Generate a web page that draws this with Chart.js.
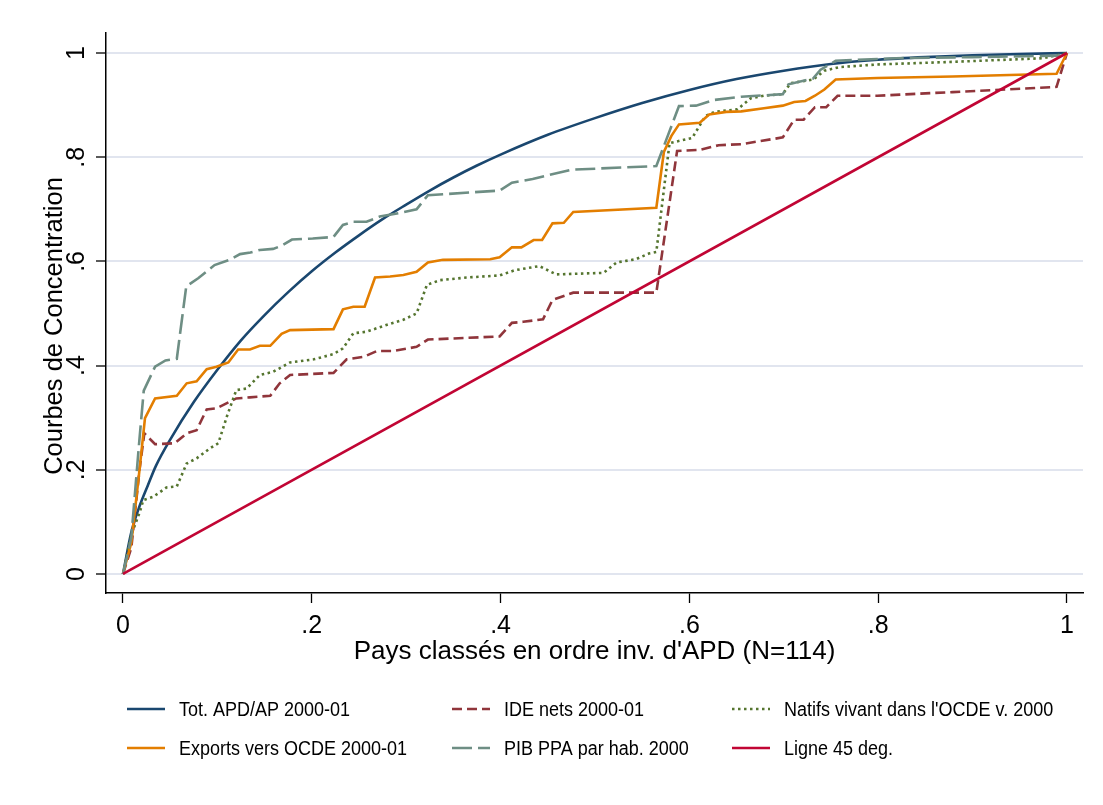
<!DOCTYPE html>
<html>
<head>
<meta charset="utf-8">
<script src="https://cdn.jsdelivr.net/npm/chart.js@4"></script>
<style>
  body { margin: 0; background: #fff; }
  canvas { display: block; }
</style>
</head>
<body>
<canvas id="conc_chart" width="1103" height="805"></canvas>
<script>
// concentration curves, countries ranked by inverse ODA (N=114)

const xTicks = [0, 0.2, 0.4, 0.6, 0.8, 1];
const yTicks = [0, 0.2, 0.4, 0.6, 0.8, 1];
const xTitle = "Pays classés en ordre inv. d'APD (N=114)";
const yTitle = 'Courbes de Concentration';

const seriesLabels = [
    'Tot. APD/AP 2000-01',
    'IDE nets 2000-01',
    "Natifs vivant dans l'OCDE v. 2000",
    'Exports vers OCDE 2000-01',
    'PIB PPA par hab. 2000',
    'Ligne 45 deg.'
];

// [share of countries, cumulative share]
const apdTot = [[0, 0], [0.0088, 0.08], [0.0175, 0.13], [0.0263, 0.17], [0.035, 0.208], [0.05, 0.258],
    [0.075, 0.33], [0.1, 0.392], [0.125, 0.4485], [0.15, 0.497], [0.175, 0.541], [0.2, 0.581],
    [0.225, 0.617], [0.25, 0.65], [0.275, 0.681], [0.3, 0.709], [0.325, 0.736], [0.35, 0.761],
    [0.375, 0.784], [0.4, 0.805], [0.45, 0.843], [0.5, 0.875], [0.55, 0.904], [0.6, 0.929],
    [0.65, 0.95], [0.7, 0.966], [0.75, 0.979], [0.8, 0.987], [0.85, 0.992], [0.9, 0.9955],
    [0.95, 0.998], [1, 1]];

const ideNets = [[0, 0], [0.0088, 0.05], [0.0175, 0.2], [0.0226, 0.27], [0.034, 0.249], [0.055, 0.251],
    [0.0675, 0.27], [0.078, 0.276], [0.0887, 0.316], [0.099, 0.318], [0.12, 0.337], [0.1345, 0.339],
    [0.156, 0.342], [0.166, 0.366], [0.177, 0.382], [0.223, 0.386], [0.237, 0.412], [0.255, 0.417],
    [0.269, 0.428], [0.286, 0.428], [0.311, 0.436], [0.323, 0.45], [0.399, 0.456], [0.412, 0.482],
    [0.424, 0.484], [0.445, 0.489], [0.455, 0.526], [0.477, 0.54], [0.565, 0.54], [0.587, 0.812],
    [0.611, 0.814], [0.631, 0.823], [0.655, 0.825], [0.699, 0.838], [0.711, 0.872], [0.721, 0.872],
    [0.733, 0.896], [0.745, 0.896], [0.757, 0.918], [0.799, 0.918], [0.879, 0.925], [0.989, 0.935],
    [1, 1]];

const natifsOcde = [[0, 0], [0.0088, 0.075], [0.018, 0.12], [0.0215, 0.142], [0.032, 0.148], [0.046, 0.166],
    [0.057, 0.168], [0.0675, 0.212], [0.078, 0.222], [0.092, 0.241], [0.101, 0.251], [0.11, 0.302],
    [0.12, 0.353], [0.131, 0.356], [0.145, 0.382], [0.159, 0.388], [0.177, 0.406], [0.202, 0.412],
    [0.223, 0.422], [0.233, 0.433], [0.244, 0.462], [0.258, 0.465], [0.279, 0.478], [0.297, 0.488],
    [0.311, 0.5], [0.322, 0.555], [0.336, 0.564], [0.364, 0.569], [0.399, 0.573], [0.415, 0.583],
    [0.441, 0.591], [0.459, 0.575], [0.509, 0.578], [0.523, 0.598], [0.543, 0.604], [0.557, 0.615],
    [0.565, 0.618], [0.579, 0.827], [0.603, 0.837], [0.617, 0.879], [0.627, 0.887], [0.651, 0.892],
    [0.665, 0.913], [0.679, 0.918], [0.699, 0.921], [0.707, 0.942], [0.731, 0.949], [0.743, 0.966],
    [0.759, 0.973], [0.799, 0.978], [0.879, 0.983], [0.975, 0.99], [1, 1]];

const exportsOcde = [[0, 0], [0.0088, 0.06], [0.0175, 0.2], [0.0233, 0.299], [0.034, 0.337], [0.057, 0.342],
    [0.0675, 0.366], [0.078, 0.37], [0.0887, 0.393], [0.099, 0.398], [0.1116, 0.406], [0.122, 0.431],
    [0.1345, 0.431], [0.145, 0.438], [0.156, 0.438], [0.168, 0.461], [0.177, 0.468], [0.223, 0.47],
    [0.233, 0.508], [0.244, 0.513], [0.256, 0.513], [0.267, 0.569], [0.283, 0.571], [0.297, 0.574],
    [0.311, 0.58], [0.323, 0.598], [0.339, 0.603], [0.389, 0.604], [0.399, 0.608], [0.412, 0.627],
    [0.422, 0.627], [0.435, 0.641], [0.444, 0.641], [0.455, 0.673], [0.467, 0.674], [0.477, 0.695],
    [0.565, 0.703], [0.573, 0.81], [0.581, 0.841], [0.589, 0.863], [0.611, 0.866], [0.621, 0.882],
    [0.639, 0.887], [0.655, 0.888], [0.679, 0.894], [0.699, 0.899], [0.711, 0.906], [0.723, 0.908],
    [0.733, 0.918], [0.743, 0.93], [0.755, 0.949], [0.799, 0.952], [0.879, 0.955], [0.989, 0.96],
    [1, 1]];

const pibPpa = [[0, 0], [0.0088, 0.07], [0.0175, 0.26], [0.022, 0.352], [0.034, 0.398], [0.045, 0.41],
    [0.057, 0.413], [0.067, 0.552], [0.08, 0.568], [0.097, 0.593], [0.113, 0.603], [0.124, 0.614],
    [0.135, 0.617], [0.145, 0.622], [0.159, 0.624], [0.168, 0.63], [0.179, 0.642], [0.201, 0.644],
    [0.223, 0.647], [0.233, 0.67], [0.244, 0.676], [0.258, 0.676], [0.272, 0.686], [0.293, 0.693],
    [0.311, 0.7], [0.323, 0.727], [0.399, 0.736], [0.412, 0.751], [0.434, 0.758], [0.452, 0.766],
    [0.475, 0.776], [0.565, 0.783], [0.589, 0.898], [0.607, 0.899], [0.627, 0.91], [0.655, 0.916],
    [0.699, 0.921], [0.705, 0.94], [0.731, 0.951], [0.739, 0.968], [0.755, 0.985], [0.819, 0.99],
    [0.899, 0.992], [0.99, 0.995], [1, 1]];

const ligne45 = [[0, 0], [1, 1]];

const FONT = '"Liberation Sans", Arial, sans-serif';

// tick labels the Stata way: "0", ".2", ... "1"
function fmt(v) {
    if (v === 0) return '0';
    if (v === 1) return '1';
    return String(v).replace(/^0/, '');
}

function toPoints(pairs) {
    return pairs.map(p => ({ x: p[0], y: p[1] }));
}

// rotated y tick labels, y title and the 3-column legend
const stataText = {
    id: 'stataText',
    afterDraw(chart) {
        const ctx = chart.ctx;
        const y = chart.scales.y;
        ctx.save();
        ctx.fillStyle = '#000';

        ctx.font = '25px ' + FONT;
        ctx.textAlign = 'center';
        ctx.textBaseline = 'alphabetic';
        yTicks.forEach(v => {
            ctx.save();
            ctx.translate(84, y.getPixelForValue(v));
            ctx.rotate(-Math.PI / 2);
            ctx.fillText(fmt(v), 0, 0);
            ctx.restore();
        });

        ctx.font = '25.5px ' + FONT;
        ctx.save();
        ctx.translate(62, 326);
        ctx.rotate(-Math.PI / 2);
        ctx.fillText(yTitle, 0, 0);
        ctx.restore();

        // legend, row by row
        const cols = [127, 452, 732];
        const rows = [709, 748];
        ctx.textAlign = 'left';
        ctx.font = '20px ' + FONT;
        chart.data.datasets.forEach((ds, i) => {
            const lx = cols[i % 3];
            const ly = rows[Math.floor(i / 3)];
            ctx.save();
            ctx.strokeStyle = ds.borderColor;
            ctx.lineWidth = 2.6;
            ctx.setLineDash(ds.borderDash || []);
            ctx.beginPath();
            ctx.moveTo(lx, ly);
            ctx.lineTo(lx + 38, ly);
            ctx.stroke();
            ctx.restore();
            ctx.save();
            ctx.translate(lx + 52, ly + 6.5);
            ctx.scale(0.9, 1);
            ctx.fillText(ds.label, 0, 0);
            ctx.restore();
        });
        ctx.restore();
    }
};

const ctx = document.getElementById('conc_chart').getContext('2d');
new Chart(ctx, {
    type: 'line',
    data: {
        datasets: [
            { label: seriesLabels[0], data: toPoints(apdTot), borderColor: '#1a476f', cubicInterpolationMode: 'monotone', order: 6 },
            { label: seriesLabels[1], data: toPoints(ideNets), borderColor: '#90353b', borderDash: [10, 5], order: 5 },
            { label: seriesLabels[2], data: toPoints(natifsOcde), borderColor: '#55752f', borderDash: [2.5, 3.5], order: 4 },
            { label: seriesLabels[3], data: toPoints(exportsOcde), borderColor: '#e37e00', order: 3 },
            { label: seriesLabels[4], data: toPoints(pibPpa), borderColor: '#6e8e84', borderDash: [20, 6], order: 2 },
            { label: seriesLabels[5], data: toPoints(ligne45), borderColor: '#c10534', order: 1 }
        ]
    },
    options: {
        responsive: false,
        animation: false,
        elements: {
            point: { radius: 0 },
            line: { borderWidth: 2.6, tension: 0, fill: false }
        },
        layout: { padding: { left: 0, top: 33, right: 20, bottom: 132 } },
        plugins: {
            legend: { display: false },
            tooltip: { enabled: false }
        },
        scales: {
            x: {
                type: 'linear',
                min: -0.018,
                max: 1.017,
                afterBuildTicks: s => { s.ticks = xTicks.map(v => ({ value: v })); },
                afterFit: s => { s.height = 80; },
                grid: { drawOnChartArea: false, tickLength: 10, tickColor: '#000', tickWidth: 1.3 },
                border: { color: '#000', width: 1.5 },
                ticks: {
                    autoSkip: false, maxRotation: 0, padding: 8, color: '#000',
                    font: { size: 25, family: FONT },
                    callback: v => fmt(v)
                },
                title: {
                    display: true, text: xTitle, color: '#000',
                    font: { size: 26, family: FONT, lineHeight: 1.2 },
                    padding: { top: 0, bottom: 6 }
                }
            },
            y: {
                type: 'linear',
                min: -0.0365,
                max: 1.0384,
                afterBuildTicks: s => { s.ticks = yTicks.map(v => ({ value: v })); },
                afterFit: s => { s.width = 106; },
                grid: { color: '#e1e5ef', lineWidth: 2, tickLength: 10, tickColor: '#000', tickWidth: 1.3 },
                border: { color: '#000', width: 1.5 },
                ticks: { display: false }
            }
        }
    },
    plugins: [stataText]
});
</script>
</body>
</html>
